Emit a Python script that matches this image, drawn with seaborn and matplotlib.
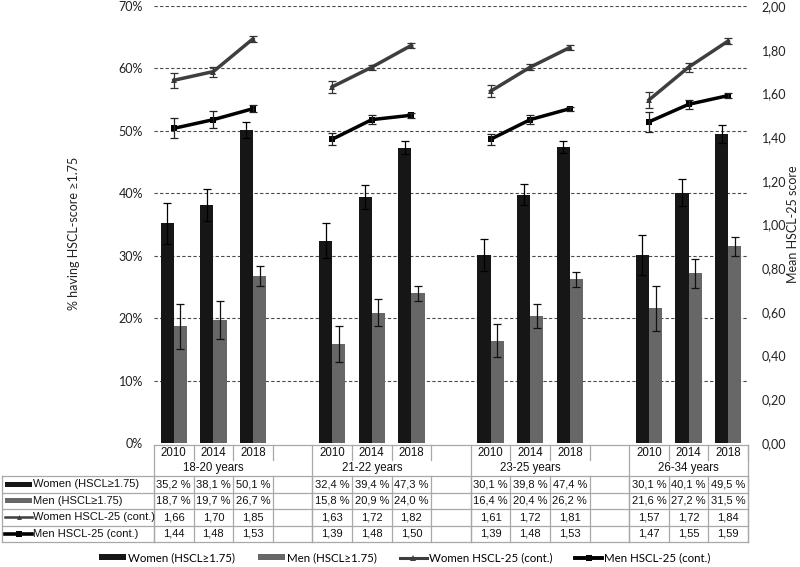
import numpy as np
import pandas as pd
import matplotlib
matplotlib.use("Agg")
import matplotlib.pyplot as plt
import seaborn as sns
from matplotlib.patches import Rectangle, Patch
from matplotlib.lines import Line2D

# ---------------- data ----------------
groups = ["18-20 years", "21-22 years", "23-25 years", "26-34 years"]
years = ["2010", "2014", "2018"]
women_pct = [35.2, 38.1, 50.1, 32.4, 39.4, 47.3, 30.1, 39.8, 47.4, 30.1, 40.1, 49.5]
men_pct = [18.7, 19.7, 26.7, 15.8, 20.9, 24.0, 16.4, 20.4, 26.2, 21.6, 27.2, 31.5]
women_pct_err = [3.3, 2.6, 1.3, 2.8, 1.9, 1.0, 2.6, 1.7, 1.0, 3.2, 2.2, 1.5]
men_pct_err = [3.6, 3.1, 1.6, 2.9, 2.2, 1.2, 2.6, 1.9, 1.2, 3.6, 2.3, 1.5]
women_score = [1.66, 1.70, 1.85, 1.63, 1.72, 1.82, 1.61, 1.72, 1.81, 1.57, 1.72, 1.84]
men_score = [1.44, 1.48, 1.53, 1.39, 1.48, 1.50, 1.39, 1.48, 1.53, 1.47, 1.55, 1.59]
women_score_err = [0.034, 0.023, 0.013, 0.027, 0.012, 0.010, 0.027, 0.015, 0.010, 0.037, 0.020, 0.012]
men_score_err = [0.046, 0.040, 0.016, 0.028, 0.020, 0.012, 0.025, 0.020, 0.010, 0.045, 0.020, 0.012]
left_ticks = [0, 10, 20, 30, 40, 50, 60, 70]
right_ticks = [0.0, 0.2, 0.4, 0.6, 0.8, 1.0, 1.2, 1.4, 1.6, 1.8, 2.0]
series_labels = ["Women (HSCL\u22651.75)", "Men (HSCL\u22651.75)",
                 "Women HSCL-25 (cont.)", "Men HSCL-25 (cont.)"]
left_label = "% having HSCL-score \u22651.75"
right_label = "Mean HSCL-25 score"

# ---------------- style ----------------
C_WB = "#161616"
C_MB = "#676767"
C_WL = "#3e3e3e"
C_ML = "#000000"
GRIDC = "#4a4a4a"
TABC = "#a8a8a8"
UI_FONT = ["Lato", "DejaVu Sans"]
TAB_FONT = ["Liberation Sans", "DejaVu Sans"]
plt.rcParams["font.family"] = UI_FONT

W, H = 800, 567
L, R, T, B = 154, 748, 6, 443
ncols = 15
colw = (R - L) / ncols

fig = plt.figure(figsize=(W / 100, H / 100), dpi=100)
ax = fig.add_axes([L / W, 1 - B / H, (R - L) / W, (B - T) / H])

# positions (group g, year i) -> column 4g+i
pos = [4 * g + i for g in range(len(groups)) for i in range(len(years))]

dfb = pd.DataFrame({
    "x": pos * 2,
    "pct": women_pct + men_pct,
    "sex": ["Women"] * len(pos) + ["Men"] * len(pos),
})
bw = 0.67
sns.barplot(data=dfb, x="x", y="pct", hue="sex", hue_order=["Women", "Men"],
            native_scale=True, width=bw, palette={"Women": C_WB, "Men": C_MB},
            saturation=1, errorbar=None, legend=False, ax=ax, zorder=2)
off = bw / 4
ax.errorbar(np.array(pos) - off, women_pct, yerr=women_pct_err, fmt="none",
            ecolor="black", elinewidth=0.9, capsize=3, capthick=0.9, zorder=4)
ax.errorbar(np.array(pos) + off, men_pct, yerr=men_pct_err, fmt="none",
            ecolor="#111111", elinewidth=0.9, capsize=3, capthick=0.9, zorder=4)

ax.set_xlim(-0.5, ncols - 0.5)
ax.set_ylim(0, 70)
ax.hlines(left_ticks[1:], -0.5, ncols - 0.5, colors=GRIDC, linestyles=(0, (3, 2)),
          linewidth=0.8, zorder=1)
ax.set_yticks(left_ticks)
ax.set_yticklabels([f"{t}%" for t in left_ticks], fontsize=9, color="#222222")
ax.set_xticks([])
ax.tick_params(axis="y", length=0, pad=8)
ax.set_xlabel("")
ax.set_ylabel(left_label, fontsize=9, color="#222222")
ax.yaxis.set_label_coords(-0.125, 0.48)
for s in ax.spines.values():
    s.set_visible(False)

# secondary axis lines
ax2 = ax.twinx()
dfl = pd.DataFrame({
    "x": pos * 2,
    "score": women_score + men_score,
    "series": ["Women"] * len(pos) + ["Men"] * len(pos),
    "group": [p // 4 for p in pos] * 2,
})
sns.lineplot(data=dfl, x="x", y="score", hue="series", style="series",
             units="group", estimator=None, sort=False,
             palette={"Women": C_WL, "Men": C_ML},
             markers={"Women": "^", "Men": "s"}, dashes=False,
             linewidth=2.5, markersize=5, markeredgewidth=0,
             legend=False, ax=ax2, zorder=5)
ax2.errorbar(pos, women_score, yerr=women_score_err, fmt="none", ecolor="#333333",
             elinewidth=0.9, capsize=3, capthick=0.9, zorder=6)
ax2.errorbar(pos, men_score, yerr=men_score_err, fmt="none", ecolor="#222222",
             elinewidth=0.9, capsize=3, capthick=0.9, zorder=6)
ax2.set_xlim(-0.5, ncols - 0.5)
ax2.set_ylim(0, 2.0)
ax2.set_yticks(right_ticks)
ax2.set_yticklabels([f"{t:.2f}".replace(".", ",") for t in right_ticks],
                    fontsize=9, color="#222222")
ax2.tick_params(axis="y", length=0, pad=10)
ax2.set_xticks([])
ax2.set_xlabel("")
ax2.set_ylabel(right_label, fontsize=9, color="#222222", rotation=90)
ax2.yaxis.set_label_coords(1.066, 0.5)
for s in ax2.spines.values():
    s.set_visible(False)

# ---------------- data table ----------------
tab = fig.add_axes([0, 0, 1, 1], zorder=10)
tab.set_xlim(0, W)
tab.set_ylim(H, 0)
tab.axis("off")
tab.patch.set_alpha(0)

y_top, y_yr, y_grp = 445, 461, 476
row_h = 16.5
rows_y = [y_grp + k * row_h for k in range(5)]
lw = 0.9

def cx(k):
    return L + (k + 0.5) * colw

def ex(k):
    return L + k * colw

# horizontal lines
tab.plot([L, R], [y_top, y_top], color=TABC, lw=lw)
for yy in rows_y:
    tab.plot([2, R], [yy, yy], color=TABC, lw=lw)
# vertical lines
for g in range(len(groups)):
    tab.plot([ex(4 * g)] * 2, [y_top, rows_y[-1]], color=TABC, lw=lw)
    for i in range(1, 4):
        if 4 * g + i <= ncols:
            tab.plot([ex(4 * g + i)] * 2, [y_top, y_yr - 1], color=TABC, lw=lw)
for k in range(ncols + 1):
    tab.plot([ex(k)] * 2, [rows_y[0], rows_y[-1]], color=TABC, lw=lw)
tab.plot([R, R], [y_top, rows_y[-1]], color=TABC, lw=lw)
tab.plot([2, 2], [rows_y[0], rows_y[-1]], color=TABC, lw=lw)

tfs = 8.0
for g, gname in enumerate(groups):
    for i, yr in enumerate(years):
        tab.text(cx(4 * g + i), (y_top + y_yr) / 2 + 0.5, yr, ha="center", va="center",
                 fontsize=tfs + 0.3, family=TAB_FONT, color="#111111")
    tab.text(cx(4 * g + 1), (y_yr + y_grp) / 2, gname, ha="center", va="center",
             fontsize=tfs + 0.3, family=TAB_FONT, color="#111111")

row_vals = [
    [f"{v:.1f} %".replace(".", ",") for v in women_pct],
    [f"{v:.1f} %".replace(".", ",") for v in men_pct],
    [f"{v:.2f}".replace(".", ",") for v in women_score],
    [f"{v:.2f}".replace(".", ",") for v in men_score],
]
for r in range(4):
    yc = (rows_y[r] + rows_y[r + 1]) / 2
    for j, p in enumerate(pos):
        tab.text(cx(p), yc, row_vals[r][j], ha="center", va="center",
                 fontsize=tfs, family=TAB_FONT, color="#111111")
    tab.text(33, yc, series_labels[r], ha="left", va="center",
             fontsize=tfs, family=TAB_FONT, color="#111111")
    if r < 2:
        tab.add_patch(Rectangle((5, yc - 2.5), 27, 5, color=[C_WB, C_MB][r], lw=0))
    else:
        tab.add_line(Line2D([5, 32], [yc, yc], color=[C_WL, C_ML][r - 2],
                            lw=[1.8, 2.6][r - 2]))
        tab.add_line(Line2D([18.5], [yc], color=[C_WL, C_ML][r - 2],
                            marker=["^", "s"][r - 2], ms=[3.5, 4.5][r - 2], mew=0))

# ---------------- legend ----------------
handles = [
    Patch(facecolor=C_WB, edgecolor="none"),
    Patch(facecolor=C_MB, edgecolor="none"),
    Line2D([], [], color=C_WL, lw=2.2, marker="^", ms=4, mew=0),
    Line2D([], [], color=C_ML, lw=2.8, marker="s", ms=4.5, mew=0),
]
fig.legend(handles, series_labels, loc="center", bbox_to_anchor=(405 / W, 1 - 558 / H),
           ncol=4, frameon=False, prop={"family": UI_FONT, "size": 8.3},
           handlelength=2.3, handleheight=0.45, handletextpad=0.2, columnspacing=2.0)

fig.savefig("out.png", dpi=100)
